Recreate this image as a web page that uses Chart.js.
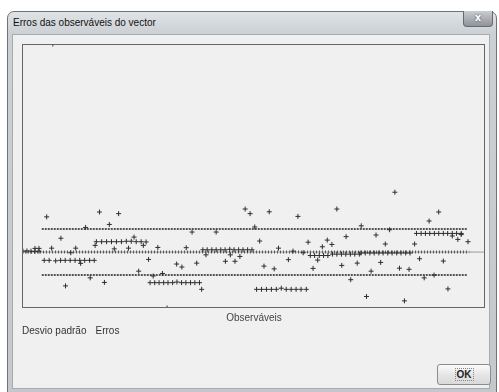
<!DOCTYPE html>
<html>
<head>
<meta charset="utf-8">
<script src="https://cdn.jsdelivr.net/npm/chart.js@4/dist/chart.umd.min.js"></script>
<style>
  body { margin: 0; width: 499px; height: 392px; background: #fff; overflow: hidden; position: relative; font-family: "Liberation Sans", Arial, sans-serif; }
  #win { position: absolute; left: 7px; top: 11px; width: 490px; height: 390px; box-sizing: border-box;
         border: 1px solid #6f7378; border-radius: 7px 7px 0 0;
         background: linear-gradient(#e0e3e6, #cbd0d4 22px, #c4c8cc); }
  #title { position: absolute; left: 13px; top: 17px; font-size: 10px; color: #111; }
  #close { position: absolute; left: 463px; top: 11px; width: 30px; height: 16px; box-sizing: border-box;
           border: 1px solid #676b70; border-top: none; border-radius: 0 0 4px 4px;
           background: linear-gradient(#c9ccd0, #8f949a); color: #fff; font: bold 10px "DejaVu Sans", sans-serif;
           text-align: center; line-height: 14px; text-shadow: 0 0 2px #444; }
  #panel { position: absolute; left: 12px; top: 34px; width: 478px; height: 355px; box-sizing: border-box;
           background: #f0f0f0; border: 1px solid #a7abb0; }
  #chart { position: absolute; left: 12px; top: 34px; }
  #xlabel { position: absolute; left: 204px; width: 100px; top: 312px; text-align: center; font-size: 10px; color: #444; }
  #legend { position: absolute; left: 22px; top: 325px; font-size: 10px; color: #333; }
  #legend span + span { margin-left: 9px; }
  #ok { position: absolute; left: 437px; top: 364px; width: 54px; height: 21px; box-sizing: border-box;
        border: 1px solid #8c8c8c; border-radius: 3px; background: linear-gradient(#fbfbfb, #e6e6e6 50%, #d9d9d9);
        font-size: 10px; font-weight: bold; color: #222; text-align: center; line-height: 19px; }
  #ok span { border: 1px dotted #888; padding: 0 1px; }
</style>
</head>
<body>
<div id="win"></div>
<div id="title">Erros das observáveis do vector</div>
<div id="close">x</div>
<div id="panel"></div>
<canvas id="chart" width="478" height="280"></canvas>
<div id="xlabel">Observáveis</div>
<div id="legend"><span>Desvio padrão</span><span>Erros</span></div>
<div id="ok"><span>OK</span></div>
<script>
// observable index range and standard deviation band
var obsMin = 0, obsMax = 150;
var sigma = 1.0;
var sigmaFrom = 6.4, sigmaTo = 144.2;
var markRowTo = 144.9;

// errors of the observables (index, value in sigma units)
var obsIndex = [
  10.0, 47.0,
  0.3, 1.6, 2.9, 4.2, 5.5, 4.2, 5.5,
  8.0, 25.1, 31.3, 20.6, 28.3, 12.6,
  24.1, 25.8, 27.4, 29.0, 30.6, 32.2, 33.8, 35.4, 37.0, 38.6, 40.2,
  36.3, 23.7, 9.6, 17.4, 29.9, 34.5, 39.3, 44.0, 15.8,
  7.2, 8.8, 10.9, 12.5, 14.0, 15.6, 17.2, 18.7, 20.3, 21.9, 23.4, 19.0,
  41.0, 37.8, 22.1, 26.7, 14.1, 42.5, 45.5,
  41.5, 43.0, 44.4, 45.9, 47.3, 48.8, 50.2, 51.7, 53.1, 54.6, 56.0, 57.5,
  72.3, 73.9, 80.1, 89.4, 75.4, 55.1, 62.9, 77.0, 92.7, 98.9, 100.4, 97.3, 53.2, 83.1,
  58.6, 60.0, 61.5, 62.9, 64.4, 65.8, 67.3, 68.7, 70.2, 71.6, 73.1, 74.5,
  59.6, 67.5, 87.8, 91.1,
  93.4, 94.8, 96.3, 97.7, 99.1, 100.6, 102.0, 103.5, 104.9, 106.4, 107.8, 109.3,
  70.6, 65.9, 69.0, 86.3, 95.8, 50.1, 51.8, 56.6, 78.4, 81.7, 94.3, 58.2,
  76.0, 77.6, 79.2, 80.8, 82.4, 84.0, 85.6, 87.2, 88.8, 90.4, 92.1,
  120.8, 102.0, 135.0, 131.9, 109.9, 119.1,
  127.8, 129.3, 130.7, 132.1, 133.6, 135.0, 136.5, 137.9, 139.4, 140.8, 142.3,
  139.4, 141.2, 142.3, 144.5, 105.0, 114.7, 117.7, 127.2,
  109.8, 111.2, 112.7, 114.1, 115.6, 117.0, 118.5, 119.9, 121.4, 122.8, 124.3, 125.7,
  128.8, 136.5, 103.6, 108.6, 116.2, 122.3, 125.4, 113.1, 130.3, 133.5, 106.5, 138.0, 111.6, 123.9
];
var errValues = [
  9.04, -2.43,
  0.04, 0.05, 0.04, 0.16, 0.16, 0.03, 0.04,
  1.53, 1.74, 1.67, 1.07, 1.20, 0.60,
  0.45, 0.45, 0.45, 0.45, 0.45, 0.45, 0.47, 0.47, 0.45, 0.45, 0.44,
  0.65, 0.29, 0.17, 0.17, 0.14, 0.17, 0.29, 0.20, -0.03,
  -0.36, -0.36, -0.38, -0.36, -0.36, -0.36, -0.36, -0.36, -0.36, -0.36, -0.36, -0.49,
  -0.32, -0.83, -1.12, -1.32, -1.47, -1.04, -0.93,
  -1.33, -1.33, -1.33, -1.33, -1.33, -1.33, -1.30, -1.33, -1.33, -1.33, -1.33, -1.33,
  1.87, 1.67, 1.75, 1.55, 1.09, 0.87, 0.87, 0.48, 0.43, 0.52, 0.33, 0.23, 0.19, 0.17,
  0.10, 0.10, 0.10, 0.10, 0.10, 0.10, 0.12, 0.10, 0.10, 0.10, 0.10, 0.10,
  -0.12, -0.12, 0.04, -0.03,
  -0.15, -0.15, -0.15, -0.15, -0.15, -0.09, -0.09, -0.09, -0.09, -0.09, -0.09, -0.09,
  -0.19, -0.40, -0.40, -0.33, -0.35, -0.52, -0.65, -0.48, -0.61, -0.73, -0.71, -1.62,
  -1.62, -1.62, -1.62, -1.62, -1.62, -1.57, -1.62, -1.62, -1.62, -1.62, -1.62,
  2.60, 1.87, 1.74, 1.35, 1.14, 0.97,
  0.81, 0.81, 0.81, 0.81, 0.81, 0.81, 0.81, 0.81, 0.81, 0.81, 0.81,
  0.70, 0.55, 0.76, 0.45, 0.67, 0.74, 0.35, 0.35,
  -0.04, -0.04, -0.04, -0.04, -0.04, -0.04, -0.04, -0.04, -0.04, -0.04, -0.04, -0.04,
  -0.29, -0.39, -0.58, -0.48, -0.45, -0.70, -0.75, -0.83, -1.12, -1.00, -1.20, -1.60, -1.93, -2.12
];

var errPoints = obsIndex.map(function (x, i) { return { x: x, y: errValues[i] }; });

// frame round the plot area
var framePlugin = {
  id: "frame",
  afterDraw: function (chart) {
    var a = chart.chartArea, ctx = chart.ctx;
    ctx.save();
    ctx.strokeStyle = "#666";
    ctx.lineWidth = 1;
    ctx.strokeRect(a.left + 0.5, a.top + 0.5, a.right - a.left - 1, a.bottom - a.top - 1);
    ctx.restore();
  }
};

var ctx = document.getElementById("chart").getContext("2d");
var chart = new Chart(ctx, {
  type: "scatter",
  data: {
    datasets: [
      {
        label: "Erros",
        data: errPoints,
        pointStyle: "cross",
        pointRadius: 2.5,
        borderWidth: 1,
        borderColor: "#2e2e2e",
        order: 0
      },
      {
        label: "Desvio padrão +",
        data: [{ x: sigmaFrom, y: sigma }, { x: sigmaTo, y: sigma }],
        showLine: true,
        pointRadius: 0,
        borderColor: "#222",
        borderWidth: 1.5,
        borderDash: [2, 1],
        order: 1
      },
      {
        label: "Desvio padrão -",
        data: [{ x: sigmaFrom, y: -sigma }, { x: sigmaTo, y: -sigma }],
        showLine: true,
        pointRadius: 0,
        borderColor: "#222",
        borderWidth: 1.5,
        borderDash: [2, 1],
        order: 1
      },
      {
        label: "marcas",
        data: [{ x: obsMin, y: 0 }, { x: markRowTo, y: 0 }],
        showLine: true,
        pointRadius: 0,
        borderColor: "#5a5a5a",
        borderWidth: 3,
        borderDash: [1, 2],
        order: 2
      },
      {
        label: "zero",
        data: [{ x: obsMin, y: 0 }, { x: obsMax, y: 0 }],
        showLine: true,
        pointRadius: 0,
        borderColor: "#9a9a9a",
        borderWidth: 1,
        order: 3
      }
    ]
  },
  options: {
    responsive: false,
    animation: false,
    layout: { padding: { left: 10, right: 2, top: 10, bottom: 6 } },
    plugins: { legend: { display: false }, tooltip: { enabled: false } },
    scales: {
      x: { type: "linear", display: false, min: obsMin, max: obsMax },
      y: { type: "linear", display: false, min: Math.min.apply(null, errValues), max: Math.max.apply(null, errValues) }
    }
  },
  plugins: [framePlugin]
});
</script>
</body>
</html>
